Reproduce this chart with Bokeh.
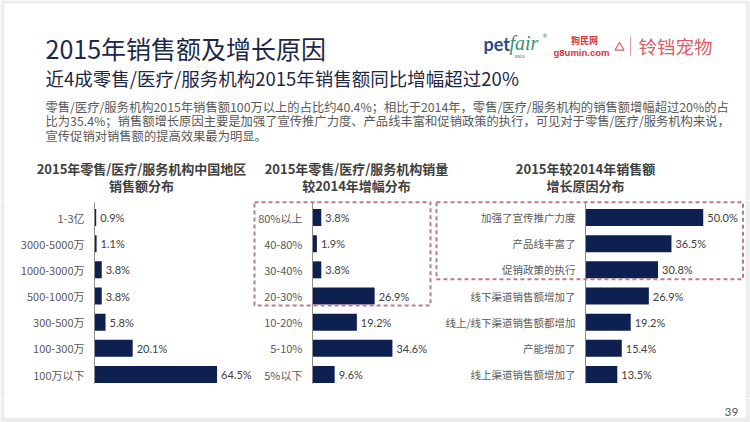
from bokeh.plotting import figure
from bokeh.layouts import column, row
from bokeh.models import Range1d, ColumnDataSource, BoxAnnotation
from bokeh.core.properties import value
from bokeh.embed import file_html
from bokeh.resources import INLINE

# ---------------- data ----------------
title = "2015年销售额及增长原因"
subtitle = "近4成零售/医疗/服务机构2015年销售额同比增幅超过20%"
body_lines = [
    "零售/医疗/服务机构2015年销售额100万以上的占比约40.4%；相比于2014年，零售/医疗/服务机构的销售额增幅超过20%的占",
    "比为35.4%；销售额增长原因主要是加强了宣传推广力度、产品线丰富和促销政策的执行，可见对于零售/医疗/服务机构来说，",
    "宣传促销对销售额的提高效果最为明显。",
]

c1_title = ["2015年零售/医疗/服务机构中国地区", "销售额分布"]
c1_labels = ["1-3亿", "3000-5000万", "1000-3000万", "500-1000万", "300-500万", "100-300万", "100万以下"]
c1_values = [0.9, 1.1, 3.8, 3.8, 5.8, 20.1, 64.5]

c2_title = ["2015年零售/医疗/服务机构销量", "较2014年增幅分布"]
c2_labels = ["80%以上", "40-80%", "30-40%", "20-30%", "10-20%", "5-10%", "5%以下"]
c2_values = [3.8, 1.9, 3.8, 26.9, 19.2, 34.6, 9.6]

c3_title = ["2015年较2014年销售额", "增长原因分布"]
c3_labels = ["加强了宣传推广力度", "产品线丰富了", "促销政策的执行", "线下渠道销售额增加了",
             "线上/线下渠道销售额都增加", "产能增加了", "线上渠道销售额增加了"]
c3_values = [50.0, 36.5, 30.8, 26.9, 19.2, 15.4, 13.5]

page_number = "39"

# ---------------- style ----------------
CJK = "Noto Sans CJK SC"
NUM = "Lato"
BAR = "#0E2050"
LABEL = "#595959"
BOX = "#B97C8D"
FRAME = "#EDEDED"

W, H = 750, 422
HEADER_H, CHART_H = 200, 198
FOOT_H = H - HEADER_H - CHART_H


def base_fig(w, h, xr, yr):
    p = figure(width=w, height=h, x_range=xr, y_range=yr, output_backend="svg",
               toolbar_location=None, x_axis_location=None, y_axis_location=None,
               min_border=0, outline_line_color=None, background_fill_color="white",
               border_fill_color="white")
    p.grid.visible = False
    return p


def side_strips(p, w, left=True, right=True):
    if left:
        p.add_layout(BoxAnnotation(left=0, right=4, left_units="screen", right_units="screen",
                                   fill_color=FRAME, fill_alpha=1, line_color=None))
    if right:
        p.add_layout(BoxAnnotation(left=w - 5, right=w, left_units="screen", right_units="screen",
                                   fill_color=FRAME, fill_alpha=1, line_color=None))


# ---------------- header ----------------
hp = base_fig(W, HEADER_H, Range1d(0, W), Range1d(HEADER_H, 0))
hp.quad(left=[0], right=[W], top=[0], bottom=[3], fill_color=FRAME, line_color=None)
side_strips(hp, W)
hp.text(x=[45], y=[47], text=[title], text_font=value(CJK), text_font_size="25px",
        text_color="#1C2846", text_baseline="middle")
hp.text(x=[45], y=[77], text=[subtitle], text_font=value(CJK), text_font_size="18.5px",
        text_color="#1C2846", text_baseline="middle")
hp.text(x=[45, 45, 45], y=[106, 120.5, 135], text=body_lines, text_font=value(CJK),
        text_font_size="12.3px", text_color=LABEL, text_baseline="middle")

# chart titles
for cx, lines in [(141, c1_title), (356, c2_title), (585, c3_title)]:
    hp.text(x=[cx, cx], y=[168, 185], text=lines, text_font=value(CJK), text_font_size="13px",
            text_font_style="bold", text_color="#404040", text_align="center",
            text_baseline="middle")

# logos (as text)
hp.text(x=[483], y=[43], text=["pet"], text_font=value(NUM), text_font_size="18px",
        text_font_style="bold", text_color="#2B4A8E", text_baseline="middle")
hp.text(x=[509], y=[42], text=["fair"], text_font=value("Liberation Serif"), text_font_size="20px",
        text_font_style="italic", text_color="#3F8C78", text_baseline="middle")
hp.text(x=[542], y=[35], text=["®"], text_font=value(NUM), text_font_size="6px",
        text_color="#3F8C78", text_baseline="middle")
hp.text(x=[514], y=[55], text=["asia"], text_font=value(NUM), text_font_size="6px",
        text_color="#3F8C78", text_baseline="middle")
hp.text(x=[584], y=[40], text=["狗民网"], text_font=value(CJK), text_font_size="9px",
        text_font_style="bold", text_color="#D2343E", text_align="center", text_baseline="middle")
hp.text(x=[581], y=[52], text=["g8umin.com"], text_font=value("Liberation Sans"), text_font_size="9.5px",
        text_font_style="bold", text_color="#D2343E", text_align="center", text_baseline="middle")
hp.scatter(x=[619], y=[47], marker="triangle", size=9, fill_color=None, line_color="#D9606E",
           line_width=1.2)
hp.segment(x0=[630], y0=[36], x1=[630], y1=[55], line_color="#E39AA3", line_width=1)
hp.text(x=[638], y=[45], text=["铃铛宠物"], text_font=value(CJK), text_font_size="18.5px",
        text_color="#D95B6A", text_baseline="middle")


# ---------------- bar charts ----------------
def bar_chart(labels, values, width, axis_px, px_per_unit, label_size, box=None,
              left_strip=False, right_strip=False):
    n = len(labels)
    row_px = 26.17
    first_px = 17
    xr = Range1d(-axis_px / px_per_unit, (width - axis_px) / px_per_unit)
    yr = Range1d((CHART_H - first_px) / row_px, -first_px / row_px)
    p = base_fig(width, CHART_H, xr, yr)
    side_strips(p, width, left=left_strip, right=right_strip)
    src = ColumnDataSource(dict(
        y=list(range(n)), v=values, lab=labels, txt=[f"{v:.1f}%" for v in values]))
    p.hbar(y="y", left=0, right="v", height=0.65, fill_color=BAR, line_color=None, source=src)
    p.segment(x0=[0], y0=[-0.58], x1=[0], y1=[n - 1 + 0.35], line_color="#8C8C8C", line_width=1)
    p.text(x=0, y="y", text="lab", source=src, x_offset=-10, text_align="right",
           text_baseline="middle", text_font=value(CJK), text_font_size=label_size,
           text_color=LABEL)
    p.text(x="v", y="y", text="txt", source=src, x_offset=4, text_align="left",
           text_baseline="middle", text_font=value(NUM), text_font_size="11px",
           text_color="#404040")
    if box is not None:
        left_px, right_px, last_row = box
        l = (left_px - axis_px) / px_per_unit
        r = (right_px - axis_px) / px_per_unit
        t, b = -0.58, last_row + 0.36
        p.line(x=[l, r, r, l, l], y=[t, t, b, b, t], line_color=BOX, line_width=2,
               line_dash="4 3")
    return p


# chart 1 spans 0..252, chart 2 252..433, chart 3 433..750 (page pixels)
f1 = bar_chart(c1_labels, c1_values, 252, 94, 1.90, "11px", left_strip=True)
f2 = bar_chart(c2_labels, c2_values, 181, 60, 2.31, "11px", box=(2, 178, 3))
f3 = bar_chart(c3_labels, c3_values, 317, 152, 2.355, "10.5px", box=(3, 309.5, 2),
               right_strip=True)

# ---------------- footer ----------------
fp = base_fig(W, FOOT_H, Range1d(0, W), Range1d(H, HEADER_H + CHART_H))
side_strips(fp, W)
fp.quad(left=[0], right=[W], top=[417], bottom=[H], fill_color=FRAME, line_color=None)
fp.text(x=[738], y=[411], text=[page_number], text_font=value(NUM), text_font_size="12px",
        text_color=LABEL, text_align="right", text_baseline="middle")

layout = column(hp, row(f1, f2, f3), fp)

open("out.html", "w").write(file_html(layout, INLINE))
